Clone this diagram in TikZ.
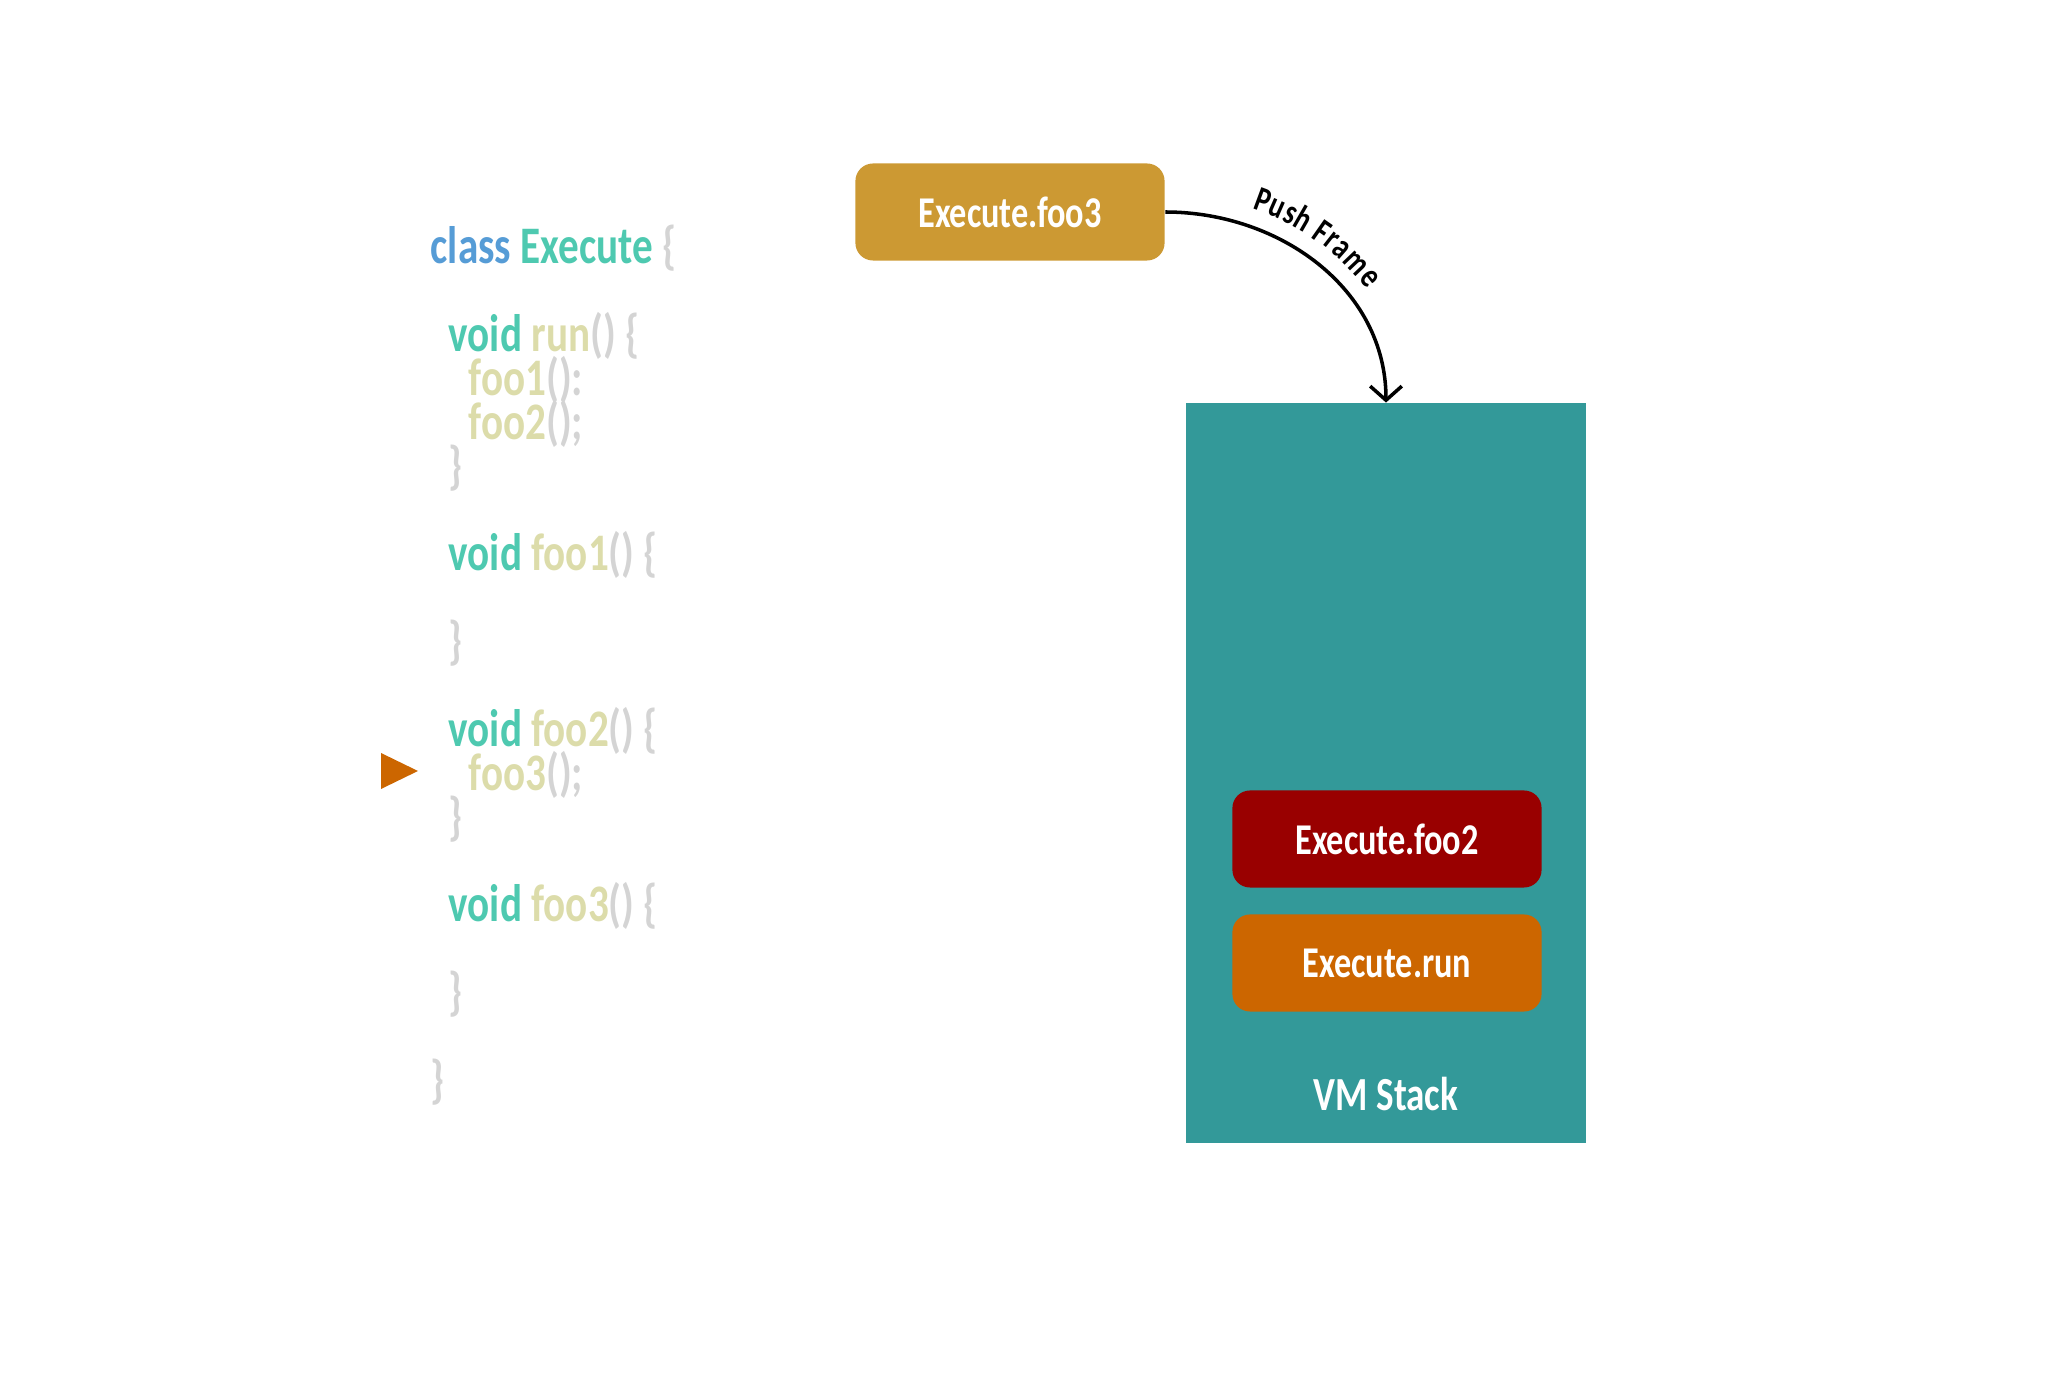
\documentclass[tikz,border=0pt]{standalone}
\usepackage{fontspec}
\setmainfont{Carlito}[FakeStretch=0.78]
\usetikzlibrary{arrows.meta,decorations.text}
\definecolor{kwblue}{HTML}{569CD6}
\definecolor{tyteal}{HTML}{4EC9B0}
\definecolor{fnkhaki}{HTML}{DCDCAA}
\definecolor{pugray}{HTML}{D4D4D4}
\definecolor{goldbox}{HTML}{CC9933}
\definecolor{redbox}{HTML}{990000}
\definecolor{orangebox}{HTML}{CC6600}
\definecolor{stackteal}{HTML}{339999}
\newcommand{\kw}[1]{\textcolor{kwblue}{#1}}
\newcommand{\ty}[1]{\textcolor{tyteal}{#1}}
\newcommand{\fn}[1]{\textcolor{fnkhaki}{#1}}
\newcommand{\pu}[1]{\textcolor{pugray}{#1}}

\begin{document}
\begin{tikzpicture}[x=0.01cm,y=0.01cm]
 \tikzstyle{frame}=[rounded corners=5pt,minimum width=3.09cm,minimum height=0.97cm,inner sep=0pt,text=white,font=\fontsize{12.5}{14}\selectfont\bfseries]
 \tikzstyle{code}=[anchor=base west,inner sep=0pt,font=\fontsize{15}{17}\selectfont\bfseries]
 \tikzstyle{push}=[-{Straight Barb[length=4pt,width=9pt]},line width=1pt]
 \useasboundingbox (0,0) rectangle (2062,1378);
 %
 \node[code] (l0) at (430,1114) {\kw{class} \ty{Execute} \pu{\{}};
 \node[code] (l2) at (448,1026) {\ty{void} \fn{run}\pu{() \{}};
 \node[code] (l3) at (468,982) {\fn{foo1}\pu{():}};
 \node[code] (l4) at (468,938) {\fn{foo2}\pu{();}};
 \node[code] (l5) at (448,894) {\pu{\}}};
 \node[code] (l7) at (448,807) {\ty{void} \fn{foo1}\pu{() \{}};
 \node[code] (l9) at (448,719) {\pu{\}}};
 \node[code] (l11) at (448,631) {\ty{void} \fn{foo2}\pu{() \{}};
 \node[code] (l12) at (468,587) {\fn{foo3}\pu{();}};
 \node[code] (l13) at (448,543) {\pu{\}}};
 \node[code] (l15) at (448,456) {\ty{void} \fn{foo3}\pu{() \{}};
 \node[code] (l17) at (448,368) {\pu{\}}};
 \node[code] (l19) at (430,280) {\pu{\}}};
 \fill[orangebox] (381,625) -- (418,607) -- (381,589) -- cycle;
 %
 \node[frame, fill=goldbox] (foo3) at (1010,1166) {Execute.foo3};
 \node[fill=stackteal, minimum width=4cm, minimum height=7.39cm, inner sep=0pt] (stack) at (1386,605) {};
 \node[frame, fill=redbox] (foo2) at (1387,539) {Execute.foo2};
 \node[frame, fill=orangebox] (run) at (1387,415) {Execute.run};
 \node[text=white, font=\fontsize{13.5}{15}\selectfont\bfseries] (vm) at (1386,284) {VM Stack};
 %
 \draw[push, postaction={decorate, decoration={text along path, raise=5pt,
   text align={left indent=0.82cm}, text={|\fontsize{10}{12}\selectfont\bfseries|Push Frame}}}]
   (foo3.east) to[out=0,in=90] (stack.north);
\end{tikzpicture}
\end{document}
